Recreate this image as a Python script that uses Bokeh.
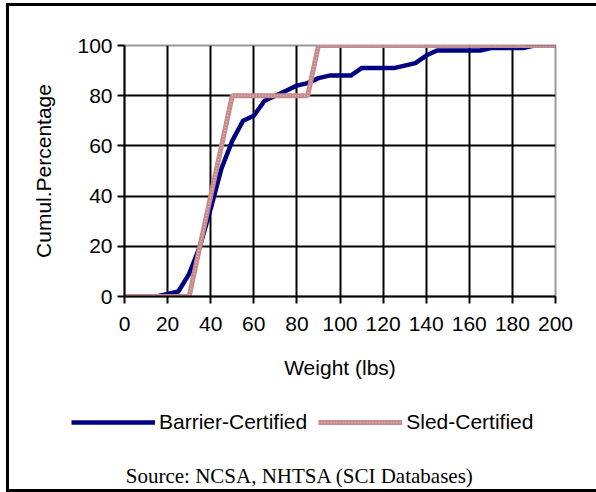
from bokeh.plotting import figure
from bokeh.layouts import column
from bokeh.models import Legend, LegendItem, Label, FixedTicker
from bokeh.embed import file_html
from bokeh.resources import INLINE

# ---- data ----
weight = [0, 5, 10, 15, 20, 25, 30, 35, 40, 45, 50, 55, 60, 65, 70, 75, 80, 85, 90, 95,
          100, 105, 110, 115, 120, 125, 130, 135, 140, 145, 150, 155, 160, 165, 170, 175,
          180, 185, 190, 195, 200]
barrier = [0, 0, 0, 0, 1, 2, 9, 20, 35, 51, 62, 70, 72, 78, 80, 82, 84, 85, 87, 88,
           88, 88, 91, 91, 91, 91, 92, 93, 96, 98, 98, 98, 98, 98, 99, 99,
           99, 99, 100, 100, 100]
sled = [0, 0, 0, 0, 0, 0, 0, 20, 40, 60, 80, 80, 80, 80, 80, 80, 80, 80, 100, 100,
        100, 100, 100, 100, 100, 100, 100, 100, 100, 100, 100, 100, 100, 100, 100, 100,
        100, 100, 100, 100, 100]
x_ticks = [0, 20, 40, 60, 80, 100, 120, 140, 160, 180, 200]
y_ticks = [0, 20, 40, 60, 80, 100]
series_names = ["Barrier-Certified", "Sled-Certified"]
source_text = "Source:  NCSA, NHTSA (SCI Databases)"

FONT = "Liberation Sans"
BAR_STYLE = dict(line_color="#000080", line_width=4.5, line_join="round")
SLED_STYLE = dict(line_color="#c68a8b", line_width=5)
SLED_TEX = dict(line_color="#e3b9b9", line_width=1.5, line_dash="1 2")

frame_css = {
    "background-image": "linear-gradient(#000,#000), linear-gradient(#000,#000), linear-gradient(#000,#000)",
    "background-position": "6px 3px, 6px 3px, 6px 489px",
    "background-size": "3px 489px, 590px 3px, 590px 3px",
    "background-repeat": "no-repeat",
}

# ---- main chart ----
p = figure(width=596, height=400, x_range=(0, 200), y_range=(0, 100),
           output_backend="svg", toolbar_location=None,
           min_border_left=124, min_border_right=41, min_border_top=45,
           min_border_bottom=104)
p.border_fill_color = None
p.background_fill_color = "white"
p.outline_line_color = "#999999"
p.outline_line_width = 2

p.xgrid.ticker = FixedTicker(ticks=x_ticks[:-1])
p.ygrid.ticker = FixedTicker(ticks=y_ticks[:-1])
for g in (p.xgrid, p.ygrid):
    g.grid_line_color = "black"
    g.grid_line_width = 2

p.xaxis.ticker = FixedTicker(ticks=x_ticks)
p.yaxis.ticker = FixedTicker(ticks=y_ticks)
for ax in (p.xaxis, p.yaxis):
    ax.axis_line_color = "black"
    ax.axis_line_width = 2
    ax.major_tick_line_color = "black"
    ax.major_tick_line_width = 2
    ax.major_tick_out = 7
    ax.major_tick_in = 0
    ax.minor_tick_line_color = None
    ax.major_label_text_font = FONT
    ax.major_label_text_font_size = "21px"
    ax.major_label_text_color = "black"
    ax.axis_label_text_font = FONT
    ax.axis_label_text_font_size = "21px"
    ax.axis_label_text_font_style = "normal"
    ax.axis_label_text_color = "black"
p.xaxis.axis_label = "Weight (lbs)"
p.yaxis.axis_label = "Cumul.Percentage"
p.xaxis.major_label_standoff = 13
p.xaxis.axis_label_standoff = 22
p.yaxis.major_label_standoff = 5
p.yaxis.axis_label_standoff = 19

p.line(weight, barrier, **BAR_STYLE)
p.line(weight, sled, **SLED_STYLE)
p.line(weight, sled, **SLED_TEX)

# ---- legend + source strip (its own frame spans the whole strip) ----
p2 = figure(width=596, height=92, x_range=(-1000, -999), y_range=(-1000, -999),
            output_backend="svg", toolbar_location=None,
            x_axis_type=None, y_axis_type=None, min_border=0)
p2.grid.visible = False
p2.outline_line_color = None
p2.background_fill_color = None
p2.border_fill_color = None
for fig in (p, p2):
    if "frame_align" in fig.properties():
        fig.frame_align = False

lb = p2.line(weight, barrier, **BAR_STYLE)
ls = p2.line(weight, sled, **SLED_STYLE)
ls2 = p2.line(weight, sled, **SLED_TEX)

legend = Legend(items=[LegendItem(label=series_names[0], renderers=[lb]),
                       LegendItem(label=series_names[1], renderers=[ls, ls2])],
                orientation="horizontal", location=(71, 58),
                glyph_width=84, glyph_height=24, label_height=24,
                label_standoff=4, spacing=11, padding=0, margin=0,
                border_line_color=None, background_fill_alpha=0,
                label_text_font=FONT, label_text_font_size="21px",
                label_text_color="black")
p2.add_layout(legend, "center")

src = Label(x=302, y=17, x_units="screen", y_units="screen", text=source_text,
            text_font="Liberation Serif", text_font_size="21px", text_align="center",
            text_baseline="middle", text_color="black")
p2.add_layout(src)

layout = column(p, p2, spacing=0, styles=frame_css)
open("out.html", "w").write(file_html(layout, INLINE))
